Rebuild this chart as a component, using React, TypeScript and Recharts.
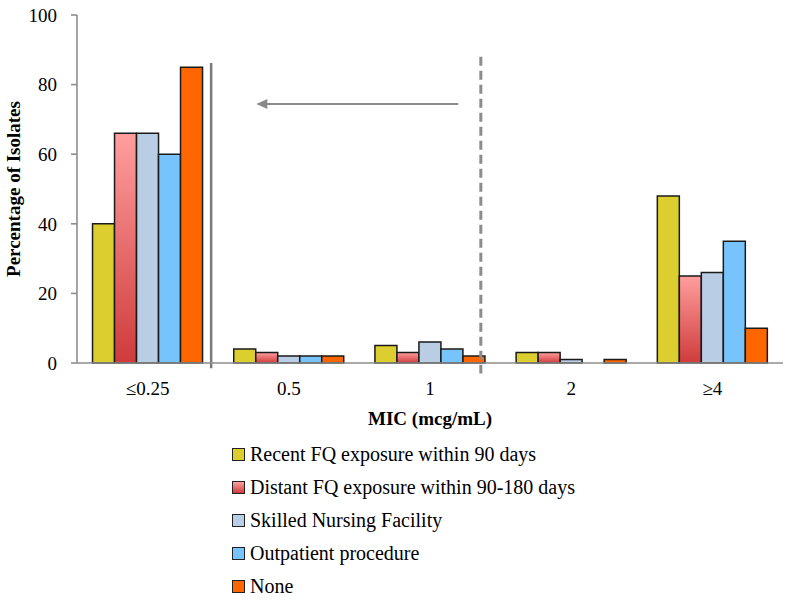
import React from 'react';
import {
  BarChart,
  Bar,
  XAxis,
  YAxis,
  Legend,
  ReferenceLine,
} from 'recharts';

// MIC categories and the share of isolates (%) per exposure group
const categories = ['≤0.25', '0.5', '1', '2', '≥4'];
const recentFQ = [40, 4, 5, 3, 48];
const distantFQ = [66, 3, 3, 3, 25];
const nursingFacility = [66, 2, 6, 1, 26];
const outpatient = [60, 2, 4, 0, 35];
const noneGroup = [85, 2, 2, 1, 10];
const yTicks = [0, 20, 40, 60, 80, 100];

// annotation positions, in category units along the x axis (0 = left edge, 5 = right edge)
const susceptibleCutoff = 0.95;
const resistantCutoff = 2.86;
const arrowFrom = 2.7;
const arrowTo = 1.27;
const arrowLevel = 74.4;

const seriesList = [
  { key: 'recent', name: 'Recent FQ exposure within 90 days', values: recentFQ, fill: '#DCCE2E' },
  { key: 'distant', name: 'Distant FQ exposure within 90-180 days', values: distantFQ, fill: 'url(#redFade)' },
  { key: 'nursing', name: 'Skilled Nursing Facility', values: nursingFacility, fill: '#B9CDE5' },
  { key: 'outpatient', name: 'Outpatient procedure', values: outpatient, fill: '#77C3FB' },
  { key: 'none', name: 'None', values: noneGroup, fill: '#FF6600' },
];

const data = categories.map((mic, i) => {
  const row: any = { mic, pos: i + 0.5 };
  seriesList.forEach((s) => {
    row[s.key] = s.values[i];
  });
  return row;
});

const FONT = '"Liberation Serif", "Times New Roman", serif';

const YLabel = (props: any) => {
  const { viewBox } = props;
  const x = viewBox.x - 4;
  const y = viewBox.y + viewBox.height / 2;
  return (
    <text
      x={x}
      y={y}
      transform={`rotate(-90, ${x}, ${y})`}
      textAnchor="middle"
      dominantBaseline="central"
      fontFamily={FONT}
      fontWeight="bold"
      fontSize={19}
      fill="#000"
    >
      Percentage of Isolates
    </text>
  );
};

const XLabel = (props: any) => {
  const { viewBox } = props;
  return (
    <text
      x={viewBox.x + viewBox.width / 2}
      y={viewBox.y + 62}
      textAnchor="middle"
      fontFamily={FONT}
      fontWeight="bold"
      fontSize={19}
      fill="#000"
    >
      MIC (mcg/mL)
    </text>
  );
};

const ArrowShape = (props: any) => {
  const { x1, y1, x2, y2 } = props;
  const left = Math.min(x1, x2);
  const right = Math.max(x1, x2);
  const y = (y1 + y2) / 2;
  return (
    <g>
      <line x1={left + 8} y1={y} x2={right} y2={y} stroke="#8a8a8a" strokeWidth={2} />
      <polygon points={`${left},${y} ${left + 11},${y - 5} ${left + 11},${y + 5}`} fill="#8a8a8a" />
    </g>
  );
};

const LegendList = () => (
  <div style={{ fontFamily: FONT, fontSize: 20, color: '#000' }}>
    {seriesList.map((s) => (
      <div key={s.key} style={{ height: 33, display: 'flex', alignItems: 'center' }}>
        <span
          style={{
            display: 'inline-block',
            width: 11,
            height: 11,
            border: '1.5px solid #222',
            marginRight: 5,
            background:
              s.key === 'distant'
                ? 'linear-gradient(#FF9E9E, #CF3B3B)'
                : s.fill,
          }}
        />
        <span>{s.name}</span>
      </div>
    ))}
  </div>
);

export default function App() {
  return (
    <div style={{ position: 'absolute', left: 0, top: 0, width: 789, height: 600, background: '#fff' }}>
      <BarChart
        width={789}
        height={600}
        data={data}
        margin={{ top: 15, right: 6, left: 17, bottom: 207 }}
        barCategoryGap="11%"
        barGap={0}
      >
        <defs>
          <linearGradient id="redFade" x1="0" y1="0" x2="0" y2="1">
            <stop offset="0%" stopColor="#FF9E9E" />
            <stop offset="100%" stopColor="#CF3B3B" />
          </linearGradient>
        </defs>
        <XAxis
          dataKey="mic"
          height={30}
          tickLine={false}
          tickSize={0}
          tickMargin={19}
          axisLine={{ stroke: '#8e8e8e', strokeWidth: 1.6 }}
          tick={{ fill: '#000', fontFamily: FONT, fontSize: 19 }}
          label={<XLabel />}
        />
        <XAxis
          xAxisId="n"
          dataKey="pos"
          type="number"
          domain={[0, 5]}
          allowDataOverflow
          hide
        />
        <YAxis
          width={60}
          domain={[0, 100]}
          ticks={yTicks}
          tickSize={6}
          tickMargin={14}
          axisLine={{ stroke: '#8e8e8e', strokeWidth: 1.6 }}
          tickLine={{ stroke: '#8e8e8e', strokeWidth: 1.6 }}
          tick={{ fill: '#000', fontFamily: FONT, fontSize: 19 }}
          label={<YLabel />}
        />
        <Legend
          layout="vertical"
          align="center"
          verticalAlign="middle"
          content={<LegendList />}
          wrapperStyle={{ left: 232, top: 438, width: 440, height: 170 }}
        />
        {seriesList.map((s) => (
          <Bar
            key={s.key}
            dataKey={s.key}
            name={s.name}
            fill={s.fill}
            stroke="#1a1a1a"
            strokeWidth={1.5}
            isAnimationActive={false}
          />
        ))}
        <ReferenceLine
          xAxisId="n"
          ifOverflow="visible"
          segment={[
            { x: susceptibleCutoff, y: 86.2 },
            { x: susceptibleCutoff, y: -1.5 },
          ]}
          stroke="#7a7a7a"
          strokeWidth={2.5}
        />
        <ReferenceLine
          xAxisId="n"
          ifOverflow="visible"
          segment={[
            { x: resistantCutoff, y: 88 },
            { x: resistantCutoff, y: -3 },
          ]}
          stroke="#8c8c8c"
          strokeWidth={3}
          strokeDasharray="9 5"
        />
        <ReferenceLine
          xAxisId="n"
          ifOverflow="visible"
          segment={[
            { x: arrowTo, y: arrowLevel },
            { x: arrowFrom, y: arrowLevel },
          ]}
          shape={<ArrowShape />}
        />
      </BarChart>
    </div>
  );
}
